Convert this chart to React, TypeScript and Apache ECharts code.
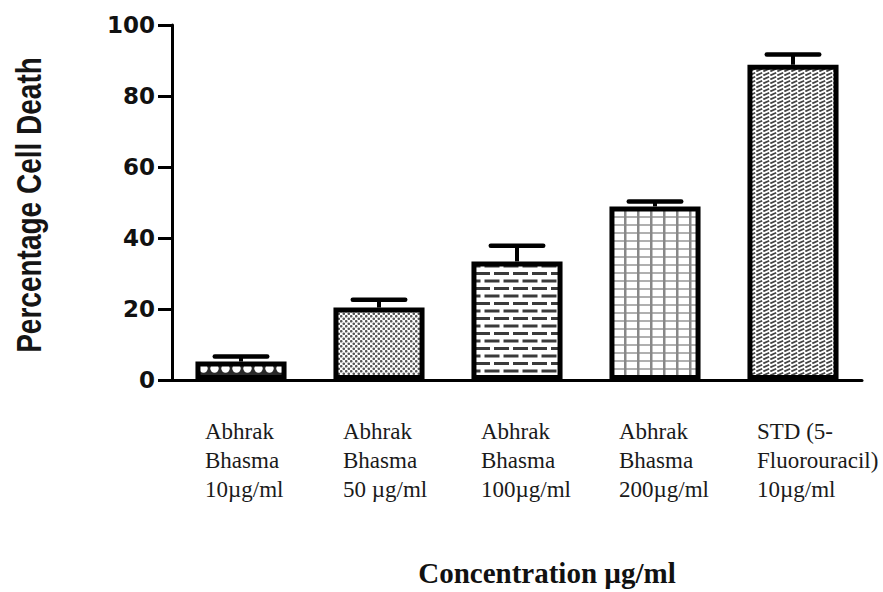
import React, { useEffect, useRef } from "react";
import * as echarts from "echarts";

// ---- data ----
const categories = [
  "Abhrak\nBhasma\n10µg/ml",
  "Abhrak\nBhasma\n50 µg/ml",
  "Abhrak\nBhasma\n100µg/ml",
  "Abhrak\nBhasma\n200µg/ml",
  "STD (5-\nFluorouracil)\n10µg/ml",
];
const meanValues = [5.2, 20.4, 33.4, 48.9, 88.8];
const errorValues = [1.4, 2.2, 4.4, 1.4, 2.9];
const yTicks = [0, 20, 40, 60, 80, 100];
const patternKinds = ["circles", "stipple", "bricks", "grid", "weave"];
const yTitle = "Percentage Cell Death";
const xTitle = "Concentration µg/ml";

function makePattern(kind: string) {
  const c = document.createElement("canvas");
  let w = 10, h = 10;
  if (kind === "circles") { w = 11; h = 11; }
  if (kind === "stipple") { w = 5; h = 5; }
  if (kind === "bricks") { w = 19; h = 15; }
  if (kind === "grid") { w = 13; h = 8; }
  if (kind === "weave") { w = 7; h = 4; }
  c.width = w; c.height = h;
  const ctx = c.getContext("2d")!;
  ctx.fillStyle = "#fff";
  ctx.fillRect(0, 0, w, h);
  if (kind === "circles") {
    ctx.fillStyle = "#2a2a2a";
    ctx.fillRect(0, 0, w, h);
    ctx.fillStyle = "#fff";
    ctx.beginPath();
    ctx.arc(5.5, 5.5, 4.2, 0, Math.PI * 2);
    ctx.fill();
  } else if (kind === "stipple") {
    ctx.fillStyle = "#555";
    ctx.beginPath(); ctx.arc(1.25, 1.25, 1.3, 0, Math.PI * 2); ctx.fill();
    ctx.beginPath(); ctx.arc(3.75, 3.75, 1.3, 0, Math.PI * 2); ctx.fill();
  } else if (kind === "bricks") {
    ctx.fillStyle = "#3a3a3a";
    ctx.fillRect(0, 2, 15, 3);
    ctx.fillRect(9.5, 9.5, 9.5, 3);
    ctx.fillRect(0, 9.5, 5.5, 3);
  } else if (kind === "grid") {
    ctx.fillStyle = "#b0b0b0";
    ctx.fillRect(0, 0, w, 2);
    ctx.fillStyle = "#888";
    ctx.fillRect(0, 0, 2.5, h);
  } else if (kind === "weave") {
    ctx.strokeStyle = "#444";
    ctx.lineWidth = 1.8;
    ctx.beginPath(); ctx.moveTo(0.3, 3.4); ctx.lineTo(6.2, 0.8); ctx.stroke();
  }
  return { image: c, repeat: "repeat", imageWidth: w, imageHeight: h };
}

export default function App() {
  const ref = useRef<HTMLDivElement>(null);
  useEffect(() => {
    document.body.style.margin = "0";
    const chart = echarts.init(ref.current!, null, { renderer: "svg" });
    const serif = '"Liberation Serif", "Times New Roman", serif';
    const option: any = {
      animation: false,
      backgroundColor: "#fff",
      grid: { left: 172, right: 21, top: 25, bottom: 205.5, containLabel: false },
      graphic: [
        {
          type: "text",
          x: 29,
          y: 205,
          rotation: Math.PI / 2,
          scaleX: 0.8,
          scaleY: 1,
          style: {
            text: yTitle,
            fontFamily: '"Liberation Sans", Arial, sans-serif',
            fontWeight: "bold",
            fontSize: 35,
            fill: "#151515",
            align: "center",
            verticalAlign: "middle",
          },
        },
      ],
      xAxis: {
        type: "category",
        data: categories,
        name: xTitle,
        nameLocation: "middle",
        nameGap: 178,
        nameTextStyle: {
          fontFamily: serif,
          fontWeight: "bold",
          fontSize: 29,
          color: "#111",
          padding: [0, 0, 0, 60],
        },
        axisLine: { lineStyle: { color: "#000", width: 3 } },
        axisTick: { show: false },
        axisLabel: {
          interval: 0,
          margin: 37,
          align: "center",
          formatter: (v: string) => v.split("\n").map((l) => `{t|${l}}`).join("\n"),
          rich: {
            t: {
              width: 72,
              align: "left",
              fontFamily: serif,
              fontSize: 23,
              lineHeight: 29,
              color: "#1a1a1a",
            },
          },
        },
      },
      yAxis: {
        type: "value",
        min: yTicks[0],
        max: yTicks[yTicks.length - 1],
        interval: yTicks[1] - yTicks[0],
        axisLine: { show: true, lineStyle: { color: "#000", width: 3 } },
        axisTick: { show: true, length: 14, lineStyle: { color: "#000", width: 3 } },
        splitLine: { show: false },
        axisLabel: {
          margin: 17,
          fontFamily: '"DejaVu Sans", sans-serif',
          fontWeight: "bold",
          fontSize: 23,
          color: "#111",
        },
      },
      series: [
        {
          type: "bar",
          barCategoryGap: "34%",
          data: meanValues.map((v, i) => ({
            value: v,
            itemStyle: { color: makePattern(patternKinds[i]) },
          })),
          itemStyle: { borderColor: "#000", borderWidth: 5 },
          z: 2,
        },
        {
          type: "custom",
          z: 3,
          data: meanValues.map((m, i) => [i, m, errorValues[i]]),
          encode: { x: 0, y: 1 },
          renderItem: (params: any, api: any) => {
            const i = api.value(0);
            const m = api.value(1);
            const e = api.value(2);
            const base = api.coord([i, m]);
            const top = api.coord([i, m + e]);
            const half = api.size([1, 0])[0] * 0.19;
            return {
              type: "group",
              children: [
                {
                  type: "line",
                  shape: { x1: base[0], y1: base[1], x2: top[0], y2: top[1] },
                  style: { stroke: "#000", lineWidth: 4 },
                },
                {
                  type: "line",
                  shape: { x1: top[0] - half, y1: top[1], x2: top[0] + half, y2: top[1] },
                  style: { stroke: "#000", lineWidth: 4.5, lineCap: "round" },
                },
              ],
            };
          },
        },
      ],
    };
    chart.setOption(option);
    return () => chart.dispose();
  }, []);
  return (
    <div
      ref={ref}
      style={{ position: "fixed", left: 0, top: 0, width: 883, height: 592, background: "#fff" }}
    />
  );
}
